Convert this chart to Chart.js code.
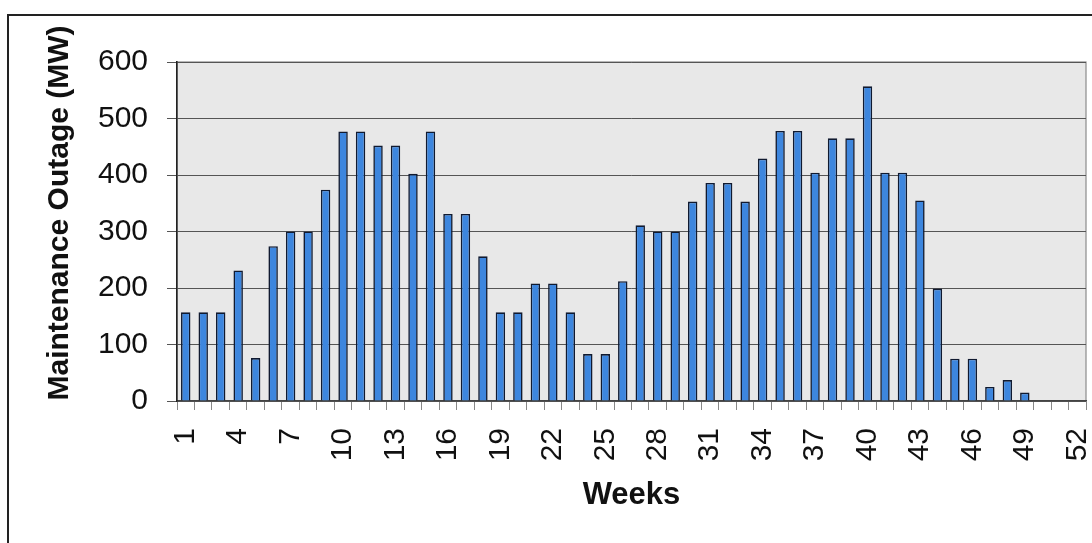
<!DOCTYPE html>
<html>
<head>
<meta charset="utf-8">
<script src="https://cdn.jsdelivr.net/npm/chart.js@4.4.1/dist/chart.umd.min.js"></script>
<style>
  html, body { margin: 0; padding: 0; background: #ffffff; }
  #wrap { width: 1092px; height: 543px; position: relative; }
</style>
</head>
<body>
<div id="wrap"><canvas id="c" width="1092" height="543"></canvas></div>
<script>
// ---- data ----
const weeks = [];
for (let w = 1; w <= 52; w++) weeks.push(String(w));
const outageMW = [157,157,157,231,76,274,300,300,374,477,477,452,452,402,477,331,331,256,157,157,208,208,157,83,83,212,311,300,300,353,386,386,353,429,478,478,404,465,465,557,404,404,355,199,75,75,25,37,15,0,0,0];
const yTicks = [0,100,200,300,400,500,600];
const xLabelEvery = 3;
const yTitle = 'Maintenance Outage (MW)';
const xTitle = 'Weeks';

const FONT = "'Liberation Sans', Arial, sans-serif";

const framePlugin = {
  id: 'frame',
  beforeDraw(chart) {
    const {ctx, chartArea: a} = chart;
    ctx.save();
    // outer frame (left + top visible)
    ctx.strokeStyle = '#222';
    ctx.lineWidth = 2;
    ctx.beginPath();
    ctx.moveTo(8, 545);
    ctx.lineTo(8, 15);
    ctx.lineTo(1094, 15);
    ctx.stroke();
    // plot area background
    ctx.fillStyle = '#e8e8e8';
    ctx.fillRect(a.left, a.top, a.right - a.left, a.bottom - a.top);
    ctx.strokeStyle = '#8a8a8a';
    ctx.lineWidth = 1.2;
    ctx.strokeRect(a.left, a.top, a.right - a.left, a.bottom - a.top);
    ctx.restore();
  },
  afterDraw(chart) {
    // y-axis title, positioned as in the original (slightly above the plot centre)
    const {ctx} = chart;
    ctx.save();
    ctx.translate(60, 213);
    ctx.rotate(-Math.PI / 2);
    ctx.fillStyle = '#111';
    ctx.font = "bold 30px " + FONT;
    ctx.textAlign = 'center';
    ctx.textBaseline = 'middle';
    ctx.fillText(yTitle, 0, 0);
    ctx.restore();
  }
};

new Chart(document.getElementById('c'), {
  type: 'bar',
  data: {
    labels: weeks,
    datasets: [{
      data: outageMW,
      backgroundColor: '#3d86de',
      borderColor: '#101a30',
      borderWidth: 1.6,
      borderSkipped: 'bottom',
      barPercentage: 0.54,
      categoryPercentage: 1.0
    }]
  },
  options: {
    responsive: false,
    animation: false,
    devicePixelRatio: 1,
    layout: { padding: { left: 8, top: 62, right: 6, bottom: 0 } },
    plugins: { legend: { display: false }, tooltip: { enabled: false } },
    scales: {
      x: {
        type: 'category',
        afterFit(scale) { scale.height = 142; scale.paddingLeft = 0; scale.paddingRight = 0; },
        grid: { display: true, drawOnChartArea: false, drawTicks: true, tickLength: 9, color: '#888', lineWidth: 1, offset: true },
        border: { display: true, color: '#444', width: 1.2 },
        ticks: {
          autoSkip: false,
          maxRotation: 90,
          minRotation: 90,
          padding: 18,
          color: '#111',
          font: { family: FONT, size: 30 },
          callback(value, index) { return index % xLabelEvery === 0 ? weeks[index] : ''; }
        },
        title: {
          display: true,
          text: xTitle,
          color: '#111',
          font: { family: FONT, size: 31, weight: 'bold' },
          padding: { top: 0, bottom: 29 }
        }
      },
      y: {
        min: 0,
        max: 600,
        afterFit(scale) { scale.width = 169; scale.paddingTop = 0; scale.paddingBottom = 0; },
        afterBuildTicks(scale) { scale.ticks = yTicks.map(v => ({ value: v })); },
        grid: { color: '#555', lineWidth: 1, drawTicks: true, tickLength: 10 },
        border: { display: true, color: '#222', width: 1.6 },
        ticks: {
          padding: 19,
          color: '#111',
          font: { family: FONT, size: 30 }
        },
        title: { display: false, text: yTitle }
      }
    }
  },
  plugins: [framePlugin]
});
</script>
</body>
</html>
